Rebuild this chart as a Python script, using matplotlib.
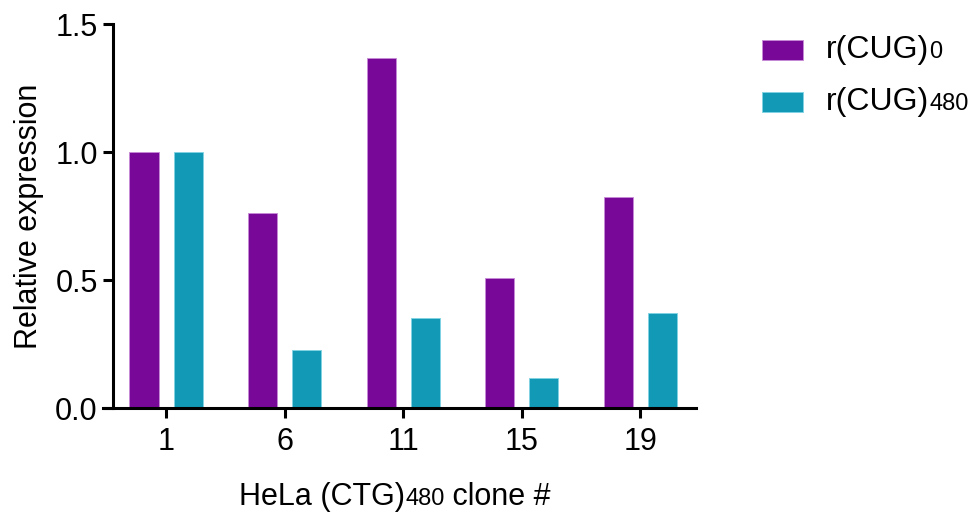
import matplotlib
matplotlib.use("Agg")
import matplotlib.pyplot as plt
import numpy as np
from matplotlib.offsetbox import TextArea, HPacker, AnnotationBbox
from matplotlib.patches import Rectangle

plt.rcParams['font.family'] = ['Liberation Sans', 'DejaVu Sans']

clones = ['1', '6', '11', '15', '19']
cug0 = [1.0, 0.76, 1.367, 0.507, 0.823]
cug480 = [1.0, 0.227, 0.353, 0.116, 0.37]

purple = '#780898'
teal = '#1199b5'

W, H = 976, 517
fig = plt.figure(figsize=(W / 100, H / 100), dpi=100)
ax = fig.add_axes([103 / W, 109 / H, 593 / W, 384 / H])

x = np.arange(len(clones))
bw = 0.245
off = 0.186
ax.bar(x - off, cug0, bw, color=purple, edgecolor='#c68ad6', linewidth=0.6)
ax.bar(x + off, cug480, bw, color=teal, edgecolor='#7fd3e3', linewidth=0.6)

ax.set_xlim(-0.532, 4.47)
ax.set_ylim(0, 1.5)
ax.set_yticks([0, 0.5, 1.0, 1.5])
ax.set_yticklabels(['0.0', '0.5', '1.0', '1.5'])
ax.set_xticks(x)
ax.set_xticklabels(clones)

for s in ['top', 'right']:
    ax.spines[s].set_visible(False)
ax.spines['left'].set_position(('axes', 10 / 593))
ax.spines['left'].set_linewidth(2.2)
ax.spines['bottom'].set_linewidth(2.2)
ax.tick_params(axis='both', width=2.2, length=7, labelsize=22, color='black')
ax.tick_params(axis='x', pad=7)
ax.tick_params(axis='y', pad=4)

ax.set_ylabel('Relative expression', fontsize=22, labelpad=8)


def mixed_text(parts):
    boxes = [TextArea(t, textprops=dict(fontsize=s, color='black')) for t, s in parts]
    return HPacker(children=boxes, align='baseline', pad=0, sep=0)


# x axis title with the smaller repeat count
xlab = mixed_text([('HeLa (CTG)', 22), ('480', 17), (' clone #', 22)])
fig.add_artist(AnnotationBbox(xlab, (395 / W, 1 - 497 / H), xycoords='figure fraction',
                              frameon=False, box_alignment=(0.5, 0.5)))

# legend
legend_items = [(purple, '#c68ad6', '0', 50), (teal, '#7fd3e3', '480', 102)]
for col, ec, sub, yc in legend_items:
    fig.add_artist(Rectangle((762 / W, 1 - (yc + 10) / H), 41 / W, 20 / H,
                             transform=fig.transFigure, facecolor=col,
                             edgecolor=ec, linewidth=0.6))
    lab = mixed_text([('r(CUG)', 23), (sub, 17)])
    fig.add_artist(AnnotationBbox(lab, (826 / W, 1 - yc / H), xycoords='figure fraction',
                                  frameon=False, box_alignment=(0, 0.5)))

fig.savefig('out.png', dpi=100)
